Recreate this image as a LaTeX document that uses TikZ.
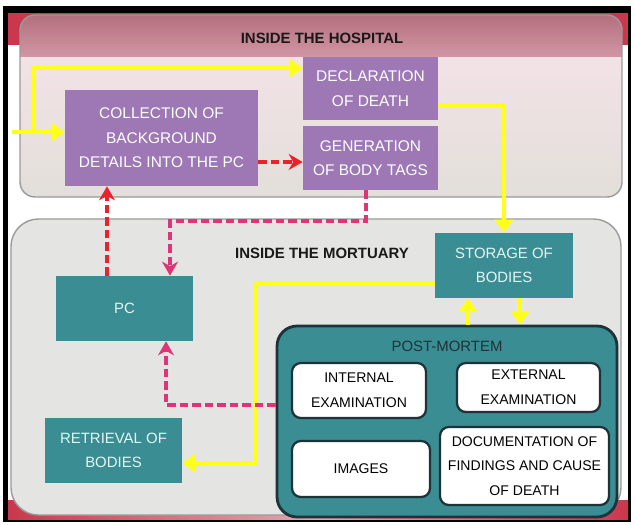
\documentclass[tikz,border=0pt]{standalone}
\usepackage{fontspec}
\setmainfont{Liberation Sans}
\usetikzlibrary{arrows.meta, positioning, shapes.geometric}
\definecolor{boxPurple}{HTML}{9D78B5}
\definecolor{boxTeal}{HTML}{3A8D93}
\definecolor{tealText}{HTML}{E4F6F4}
\definecolor{darkEdge}{HTML}{1E3338}
\definecolor{flowYellow}{HTML}{FFFF1A}
\definecolor{flowRed}{HTML}{E8232C}
\definecolor{flowPink}{HTML}{DF3478}
\definecolor{frameRed}{HTML}{C9384D}
\definecolor{headerPink}{HTML}{C77C8D}
\definecolor{panelGray}{HTML}{E4E4E2}
\definecolor{panelEdge}{HTML}{9A9A9A}

\begin{document}
\begin{tikzpicture}[
    x=0.02cm, y=-0.02cm,
    purplebox/.style={rectangle, fill=boxPurple, text=white, align=center, inner sep=0pt,
                      font=\fontsize{8.8}{14}\selectfont},
    tealbox/.style={rectangle, fill=boxTeal, text=tealText, align=center, inner sep=0pt,
                    font=\fontsize{8.5}{14}\selectfont},
    whitebox/.style={rectangle, rounded corners=5pt, fill=white, draw=darkEdge, line width=1.3pt,
                     text=black, align=center, inner sep=0pt, font=\fontsize{8}{14}\selectfont},
    header/.style={font=\bfseries\fontsize{8.5}{10}\selectfont, text=black!90},
    yarrow/.style={-{Triangle[width=0.36cm, length=0.26cm]}, line width=2.3pt, color=flowYellow},
    rarrow/.style={-{Stealth[width=0.32cm, length=0.28cm]}, line width=2.1pt, color=flowRed,
                   dash pattern=on 0.17cm off 0.08cm},
    parrow/.style={-{Stealth[width=0.32cm, length=0.28cm]}, line width=2.1pt, color=flowPink,
                   dash pattern=on 0.17cm off 0.08cm}
]

% frame and background
\useasboundingbox (0,0) rectangle (635,524);
\fill[white] (0,0) rectangle (635,524);
\fill[black] (3,6) rectangle (631,522);
\fill[white] (8,13) rectangle (628,519);
\fill[frameRed] (8,13) rectangle (628,45);
\shade[left color=frameRed, right color=frameRed, middle color=frameRed!45] (8,500) rectangle (628,519);

% inside the hospital
\begin{scope}
  \clip[rounded corners=0.3cm] (20,15) rectangle (622,197);
  \shade[top color=headerPink!90!black, bottom color=headerPink!80] (20,15) rectangle (622,57);
  \shade[top color=headerPink!22, middle color=panelGray!45, bottom color=panelGray!95!brown] (20,57) rectangle (622,197);
\end{scope}
\draw[panelEdge, line width=0.8pt, rounded corners=0.3cm] (20,15) rectangle (622,197);
\node[header] (hosp) at (322,38) {INSIDE THE HOSPITAL};

% inside the mortuary
\fill[panelGray, draw=panelEdge, line width=0.8pt, rounded corners=0.55cm] (11,219) rectangle (621,515);
\node[header] (mort) at (322,253) {INSIDE THE MORTUARY};

\node[purplebox, minimum width=3.86cm, minimum height=1.92cm] (collect) at (161.5,138)
     {COLLECTION OF\\BACKGROUND\\DETAILS INTO THE PC};
\node[purplebox, minimum width=2.7cm, minimum height=1.26cm] (declare) at (370.5,88.5)
     {DECLARATION\\OF DEATH};
\node[purplebox, minimum width=2.7cm, minimum height=1.28cm] (tags) at (370.5,158)
     {GENERATION\\OF BODY TAGS};

\node[tealbox, minimum width=2.76cm, minimum height=1.3cm] (storage) at (504,265.5)
     {STORAGE OF\\BODIES};
\node[tealbox, minimum width=2.74cm, minimum height=1.3cm] (pc) at (124.5,308.5) {PC};
\node[tealbox, minimum width=2.74cm, minimum height=1.3cm] (retrieve) at (113.5,450.5)
     {RETRIEVAL OF\\BODIES};

% post-mortem group
\node[rectangle, rounded corners=0.4cm, fill=boxTeal, draw=darkEdge, line width=1.6pt,
      minimum width=6.8cm, minimum height=3.82cm] (pm) at (447,421.5) {};
\node[font=\fontsize{8.5}{10}\selectfont, text=darkEdge] (pmtitle) at (447,346) {POST-MORTEM};
\node[whitebox, minimum width=2.68cm, minimum height=1.1cm] (internal) at (359,390.5)
     {INTERNAL\\EXAMINATION};
\node[whitebox, minimum width=2.86cm, minimum height=0.98cm] (external) at (528.5,387.5)
     {EXTERNAL\\EXAMINATION};
\node[whitebox, minimum width=2.76cm, minimum height=1.12cm] (images) at (361,469) {IMAGES};
\node[whitebox, minimum width=3.38cm, minimum height=1.56cm] (docs) at (524.5,466)
     {DOCUMENTATION OF\\FINDINGS AND CAUSE\\OF DEATH};

% body flow
\coordinate (entry) at (12,132);
\coordinate (split) at (33,132);
\draw[yarrow] (entry) -- (collect.west |- entry);
\draw[yarrow] (split) |- (declare.west |- 0,68);
\draw[yarrow] (declare.east |- 0,105) -| (storage.north);
\draw[yarrow] (pm.north -| 468,0) -- (storage.south -| 468,0);
\draw[yarrow] (storage.south -| 520,0) -- (pm.north -| 520,0);
\draw[yarrow] (storage.west |- 0,284) -| (256,463) -- (retrieve.east |- 0,463);

% data flow
\draw[rarrow] (collect.east |- 0,162) -- (tags.west |- 0,162);
\draw[parrow] (tags.south -| 366,0) |- (170,221) -- (pc.north -| 170,0);
\draw[rarrow] (pc.north -| 107,0) -- (collect.south -| 107,0);
\draw[parrow] (pm.west |- 0,405) -| (pc.south -| 166,0);

\end{tikzpicture}
\end{document}
